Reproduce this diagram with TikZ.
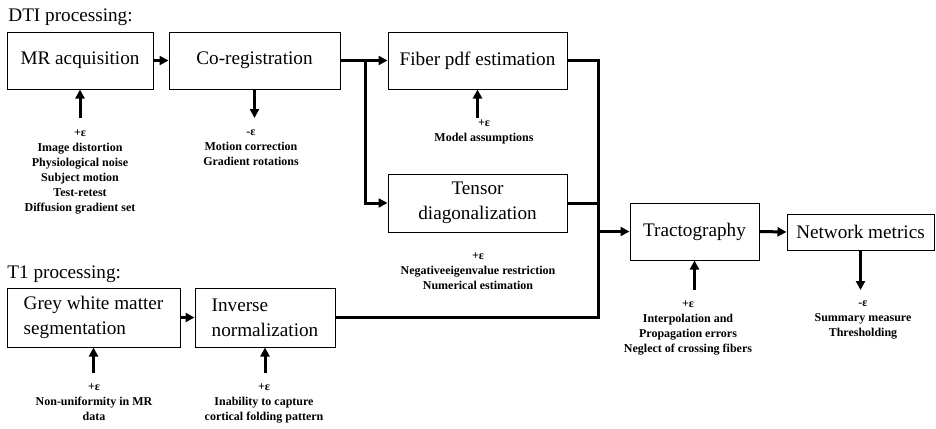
\documentclass[tikz,border=0pt]{standalone}
\usepackage{fontspec}
\setmainfont{Liberation Serif}
\usepackage{tikz}
\usetikzlibrary{arrows.meta,positioning}
\tikzset{
	procbox/.style={draw, line width=0.5pt, inner sep=0pt, align=center, font=\fontsize{9.6}{12.5}\selectfont},
	errtext/.style={anchor=north, inner sep=0pt, align=center, font=\fontsize{6}{7.5}\selectfont\bfseries},
	flow/.style={line width=1.5pt, -{Triangle[length=4.5pt,width=4.5pt]}},
	wire/.style={line width=1.5pt},
	heading/.style={anchor=base west, inner sep=0pt, font=\fontsize{9.6}{12}\selectfont}
}

\begin{document}
\begin{tikzpicture}[x=0.5pt, y=-0.5pt]
	\useasboundingbox (0,0) rectangle (936,428);
	\node[heading] (dti) at (8,21) {DTI processing:};
	\node[heading] (tone) at (7,278) {T1 processing:};
	\node[procbox, minimum width=73pt, minimum height=28.5pt] (mr) at (80,60.5) {MR acquisition};
	\node[procbox, minimum width=85.5pt, minimum height=28.5pt] (coreg) at (254.5,60.5) {Co-registration};
	\node[procbox, minimum width=89.5pt, minimum height=28.5pt] (fiber) at (477.5,60.5) {Fiber pdf estimation};
	\node[procbox, minimum width=89.5pt, minimum height=29pt] (tensor) at (477.5,203) {Tensor\\diagonalization};
	\node[procbox, minimum width=64.5pt, minimum height=28.5pt] (tract) at (694.5,231.5) {Tractography};
	\node[procbox, minimum width=73.5pt, minimum height=18pt] (network) at (860.5,232) {Network metrics};
	\node[procbox, align=left, minimum width=86.5pt, minimum height=29.5pt] (grey) at (93.5,317.5) {Grey white matter\\segmentation};
	\node[procbox, align=left, minimum width=70pt, minimum height=29.5pt] (inverse) at (265,317.5) {Inverse\\normalization};
	\node[errtext] (mrerr) at (80,129) {+ε\\Image distortion\\Physiological noise\\Subject motion\\Test-retest\\Diffusion gradient set};
	\node[errtext] (coregerr) at (251,129) {-ε\\Motion correction\\Gradient rotations};
	\node[errtext] (fibererr) at (484,119) {+ε\\Model assumptions};
	\node[errtext] (tensorerr) at (478,252) {+ε\\Negativeeigenvalue restriction\\Numerical estimation};
	\node[errtext] (tracterr) at (688,300) {+ε\\Interpolation and\\Propagation errors\\Neglect of crossing fibers};
	\node[errtext] (networkerr) at (863,300) {-ε\\Summary measure\\Thresholding};
	\node[errtext] (greyerr) at (94,383) {+ε\\Non-uniformity in MR\\data};
	\node[errtext] (inverseerr) at (264,383) {+ε\\Inability to capture\\cortical folding pattern};
	\coordinate (split) at (365,60.5);
	\coordinate (merge) at (598,231.5);
	\coordinate (mrsrc) at (80,118);
	\coordinate (coregdst) at (254.5,118);
	\coordinate (fibersrc) at (477.5,118);
	\coordinate (tractsrc) at (694.5,290);
	\coordinate (networkdst) at (860.5,290);
	\coordinate (greysrc) at (93.5,373);
	\coordinate (inversesrc) at (265,373);
	\draw[flow] (mr.east) -- (coreg.west);
	\draw[wire] (coreg.east) -- (split);
	\draw[flow] (split) -- (fiber.west);
	\draw[flow] (split) |- (tensor.west);
	\draw[wire] (fiber.east) -| (merge);
	\draw[wire] (tensor.east) -| (merge);
	\draw[wire] (inverse.east) -| (merge);
	\draw[flow] (merge) -- (tract.west);
	\draw[flow] (tract.east) -- (network.west);
	\draw[flow] (grey.east) -- (inverse.west);
	\draw[flow] (mrsrc) -- (mr.south);
	\draw[flow] (coreg.south) -- (coregdst);
	\draw[flow] (fibersrc) -- (fiber.south);
	\draw[flow] (tractsrc) -- (tract.south);
	\draw[flow] (network.south) -- (networkdst);
	\draw[flow] (greysrc) -- (grey.south);
	\draw[flow] (inversesrc) -- (inverse.south);
\end{tikzpicture}
\end{document}
